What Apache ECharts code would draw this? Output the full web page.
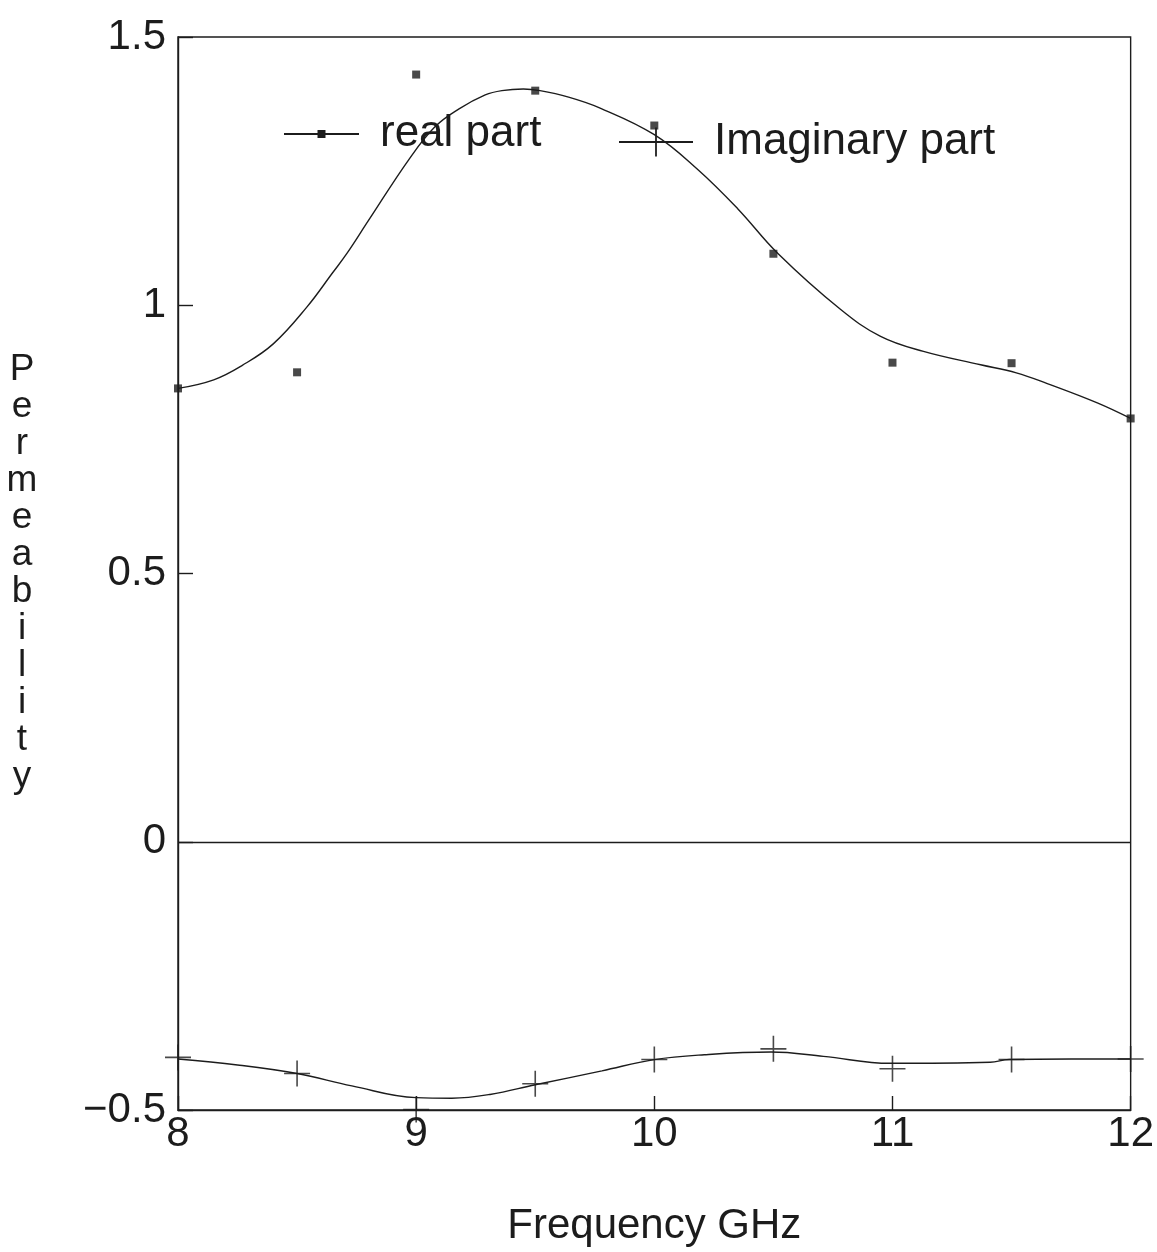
<!DOCTYPE html>
<html>
<head>
<meta charset="utf-8">
<script src="https://cdn.jsdelivr.net/npm/echarts@6/dist/echarts.min.js"></script>
<style>
  html, body { margin: 0; padding: 0; background: #fff; }
  #chart { width: 1157px; height: 1252px; }
</style>
</head>
<body>
<div id="chart"></div>
<script>
// Axis ticks
const frequencyTicks = [8, 9, 10, 11, 12];
const permeabilityTicks = [-0.5, 0, 0.5, 1, 1.5];

// Measured points (GHz, permeability)
const measuredFreq = [8, 8.5, 9, 9.5, 10, 10.5, 11, 11.5, 12];
const realMeasured = [0.845, 0.875, 1.43, 1.40, 1.335, 1.096, 0.893, 0.892, 0.789];
const imagMeasured = [-0.402, -0.432, -0.499, -0.451, -0.406, -0.386, -0.423, -0.406, -0.405];

// Fitted curves
const realFitFreq = [8.0, 8.15, 8.27, 8.4, 8.54, 8.65, 8.71, 8.8, 8.97, 9.08, 9.18, 9.29, 9.36, 9.45, 9.52, 9.64, 9.77, 10.0, 10.18, 10.35, 10.52, 10.78, 10.95, 11.13, 11.37, 11.52, 11.65, 11.86, 12.0];
const realFit = [0.845, 0.861, 0.888, 0.928, 0.996, 1.061, 1.097, 1.158, 1.272, 1.333, 1.366, 1.392, 1.400, 1.403, 1.400, 1.388, 1.368, 1.318, 1.254, 1.180, 1.096, 0.993, 0.942, 0.914, 0.889, 0.874, 0.854, 0.818, 0.789];
const imagFitFreq = [8.0, 8.25, 8.5, 8.73, 9.0, 9.15, 9.31, 9.5, 9.78, 10.0, 10.21, 10.49, 10.71, 10.99, 11.41, 11.49, 11.75, 12.0];
const imagFit = [-0.405, -0.416, -0.432, -0.455, -0.477, -0.478, -0.471, -0.453, -0.427, -0.406, -0.397, -0.392, -0.400, -0.413, -0.411, -0.406, -0.405, -0.405];

const ink = '#1c1c1c';
const font = 'Liberation Sans';
// thin cross marker
const plusPath = 'path://M12.2,0h1.6v12.2h12.2v1.6h-12.2v12.2h-1.6v-12.2h-12.2v-1.6h12.2z';
const pairs = (xs, ys) => xs.map((x, i) => [x, ys[i]]);

const chart = echarts.init(document.getElementById('chart'));

chart.setOption({
  animation: false,
  backgroundColor: '#fff',
  grid: {
    left: 178, right: 22, top: 37, bottom: 140,
    show: true, borderColor: ink, borderWidth: 1.4, backgroundColor: 'transparent'
  },
  xAxis: {
    type: 'value',
    min: frequencyTicks[0],
    max: frequencyTicks[frequencyTicks.length - 1],
    interval: 1,
    axisLine: { show: true, onZero: false, lineStyle: { color: ink, width: 1.4 } },
    axisTick: { show: true, inside: true, length: 14, lineStyle: { color: ink, width: 1.4 } },
    axisLabel: { color: ink, fontFamily: font, fontSize: 42, margin: 3 },
    splitLine: { show: false },
    name: 'Frequency GHz',
    nameLocation: 'middle',
    nameGap: 116,
    nameTextStyle: { color: ink, fontFamily: font, fontSize: 42, verticalAlign: 'middle' }
  },
  yAxis: {
    type: 'value',
    min: permeabilityTicks[0],
    max: permeabilityTicks[permeabilityTicks.length - 1],
    interval: 0.5,
    axisLine: { show: true, onZero: false, lineStyle: { color: ink, width: 1.4 } },
    axisTick: { show: true, inside: true, length: 15, lineStyle: { color: ink, width: 1.4 } },
    axisLabel: {
      color: ink, fontFamily: font, fontSize: 42, margin: 12,
      formatter: v => String(v).replace('-', '\u2212')
    },
    splitLine: { show: false },
    name: 'Permeability'.split('').join('\n'),
    nameLocation: 'middle',
    nameRotate: 0,
    nameGap: 156,
    nameTextStyle: {
      color: ink, fontFamily: font, fontSize: 37, lineHeight: 37,
      align: 'center', verticalAlign: 'middle', padding: [12, 0, 0, 0]
    }
  },
  legend: [
    {
      data: ['real part'],
      left: 283, top: 104,
      padding: 0,
      itemWidth: 75, itemHeight: 10,
      selectedMode: false,
      textStyle: { color: ink, fontFamily: font, fontSize: 44, lineHeight: 44, padding: [16, 0, 0, 16] }
    },
    {
      data: ['Imaginary part'],
      left: 618, top: 113,
      padding: 0,
      itemWidth: 74, itemHeight: 36,
      selectedMode: false,
      textStyle: { color: ink, fontFamily: font, fontSize: 44, lineHeight: 44, padding: [14, 0, 0, 16] }
    }
  ],
  series: [
    {
      name: 'real part',
      type: 'line',
      data: pairs(realFitFreq, realFit),
      smooth: 0.4,
      symbol: 'rect',
      showSymbol: false,
      lineStyle: { color: ink, width: 1.4 },
      itemStyle: { color: ink },
      silent: true
    },
    {
      name: 'real part measured',
      type: 'scatter',
      data: pairs(measuredFreq, realMeasured),
      symbol: 'rect',
      symbolSize: 8,
      itemStyle: { color: ink },
      silent: true
    },
    {
      name: 'Imaginary part',
      type: 'line',
      data: pairs(imagFitFreq, imagFit),
      smooth: 0.4,
      symbol: plusPath,
      showSymbol: false,
      lineStyle: { color: ink, width: 1.4 },
      itemStyle: { color: ink },
      silent: true,
      markLine: {
        silent: true,
        symbol: ['none', 'none'],
        label: { show: false },
        lineStyle: { color: ink, width: 1.4, type: 'solid' },
        data: [{ yAxis: 0 }]
      }
    },
    {
      name: 'Imaginary part measured',
      type: 'scatter',
      data: pairs(measuredFreq, imagMeasured),
      symbol: plusPath,
      symbolSize: 26,
      itemStyle: { color: ink },
      silent: true
    }
  ]
});
</script>
</body>
</html>
